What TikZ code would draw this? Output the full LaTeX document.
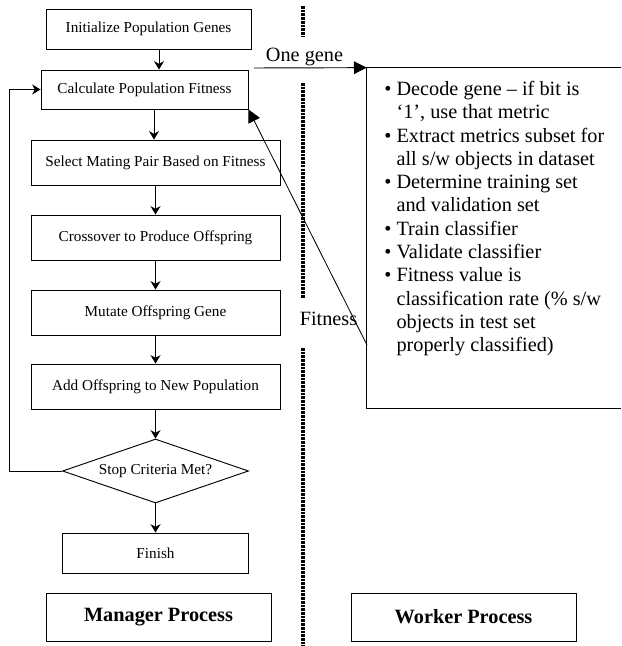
\documentclass[tikz,border=0pt]{standalone}
\usepackage{fontspec}
\setmainfont{Liberation Serif}
\usetikzlibrary{arrows.meta,shapes.geometric}
\newcommand\pxu{0.5917pt}
\tikzset{
 box/.style={draw, line width=0.55pt, inner sep=0pt, font=\fontsize{9}{10.8}\selectfont, align=center},
 lbl/.style={draw, line width=0.55pt, inner sep=0pt, font=\fontsize{12}{14}\selectfont\bfseries},
 flow/.style={-{Stealth[length=5pt,width=6pt]}, line width=0.55pt},
 big/.style={-{Triangle[length=7.5pt,width=7.5pt]}, line width=0.55pt},
 sepline/.style={line width=1.8pt, dash pattern=on 1.6pt off 0.6pt},
 txt/.style={inner sep=0pt, font=\fontsize{12}{13.8}\selectfont},
}
\begin{document}
\begin{tikzpicture}[x=\pxu, y=-\pxu]
\useasboundingbox (0,0) rectangle (621,646);
% manager flowchart
\node[box, minimum width=205*\pxu, minimum height=40*\pxu] (init) at (148.5,29) {Initialize Population Genes};
\node[box, minimum width=207*\pxu, minimum height=39*\pxu] (calc) at (144.5,89.5) {Calculate Population Fitness};
\node[box, minimum width=249*\pxu, minimum height=45*\pxu] (sel) at (155.5,162.5) {Select Mating Pair Based on Fitness};
\node[box, minimum width=249*\pxu, minimum height=45*\pxu] (cross) at (155.5,237.5) {Crossover to Produce Offspring};
\node[box, minimum width=249*\pxu, minimum height=45*\pxu] (mut) at (155.5,312.5) {Mutate Offspring Gene};
\node[box, minimum width=249*\pxu, minimum height=45*\pxu] (add) at (155.5,386.5) {Add Offspring to New Population};
\node[box, diamond, aspect=2.9, minimum width=186*\pxu, minimum height=64*\pxu] (stop) at (155.5,471) {Stop Criteria Met?};
\node[box, minimum width=186*\pxu, minimum height=40*\pxu] (fin) at (155.5,553) {Finish};
\node[lbl, minimum width=225*\pxu, minimum height=48*\pxu] (mgr) at (158.5,617) {Manager Process};
\node[lbl, minimum width=225*\pxu, minimum height=48*\pxu] (wrk) at (463.5,617) {Worker Process};
% flow arrows
\coordinate (a1) at (159,0);
\coordinate (a2) at (154,0);
\draw[flow] (init.south -| a1) -- (calc.north -| a1);
\draw[flow] (calc.south -| a2) -- (sel.north -| a2);
\draw[flow] (sel.south) -- (cross.north);
\draw[flow] (cross.south) -- (mut.north);
\draw[flow] (mut.south) -- (add.north);
\draw[flow] (add.south) -- (stop.north);
\draw[flow] (stop.south) -- (fin.north);
\coordinate (lp) at (9,0);
\draw[flow] (stop.west) -- (stop.west -| lp) -- (calc.west -| lp) -- (calc.west);
% separator
\draw[sepline] (303,6) -- (303,36);
\draw[sepline] (303,83) -- (303,298);
\draw[sepline] (303,348) -- (303,646);
% worker box (open on the right)
\node[inner sep=0pt, minimum width=254*\pxu, minimum height=340*\pxu] (wbox) at (494,238) {};
\draw[line width=0.55pt] (wbox.north east) -- (wbox.north west) -- (wbox.south west) -- (wbox.south east);
\node[txt, anchor=north west] (list) at (384,78.7) {%
\begin{tabular}{@{}l@{\hspace{3pt}}l@{}}
• & Decode gene -- if bit is\\
  & `1', use that metric\\
• & Extract metrics subset for\\
  & all s/w objects in dataset\\
• & Determine training set\\
  & and validation set\\
• & Train classifier\\
• & Validate classifier\\
• & Fitness value is\\
  & classification rate (\% s/w\\
  & objects in test set\\
  & properly classified)
\end{tabular}};
% messages
\coordinate (g0) at (254,68);
\draw[big] (g0) -- (wbox.north west);
\node[txt, anchor=base] (onegene) at (304.5,62) {One gene};
\coordinate (f0) at (367,345);
\draw[big, line width=0.5pt] (f0) -- (calc.south east);
\node[txt, anchor=base] (fitlbl) at (328.5,325) {Fitness};
\end{tikzpicture}
\end{document}
